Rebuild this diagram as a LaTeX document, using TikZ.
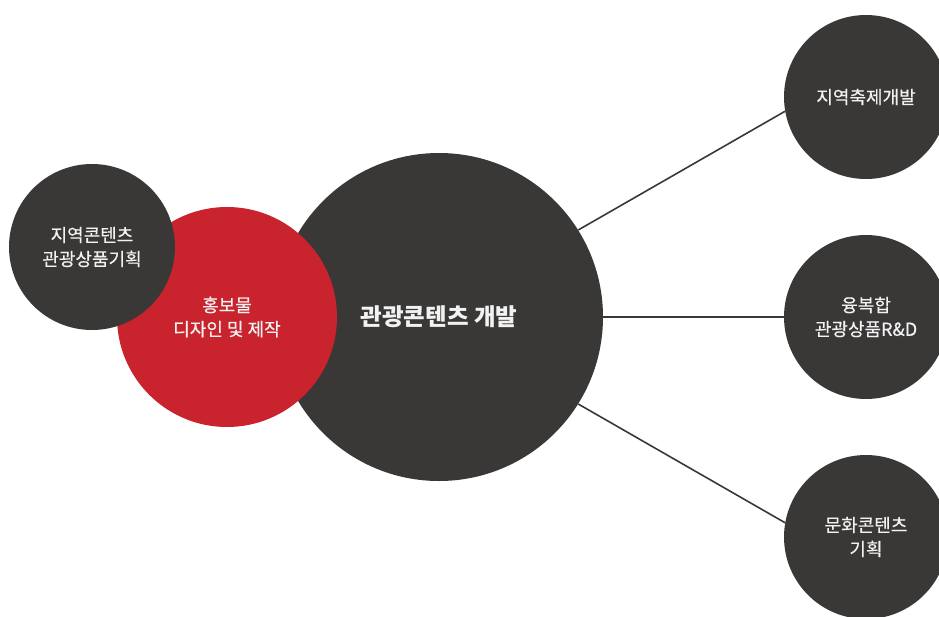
\documentclass[tikz,border=0pt]{standalone}
\usepackage{fontspec}
\setmainfont{Noto Sans CJK KR}
\newfontfamily\krlabel{Noto Sans CJK KR}[FakeBold=0.4]
\definecolor{bubblegray}{HTML}{3A3837}
\definecolor{bubblered}{HTML}{C9232D}
\definecolor{labelwhite}{HTML}{F2F2F2}
\begin{document}
\begin{tikzpicture}[x=1pt, y=-1pt,
  bubble/.style={circle, inner sep=0pt, align=center, text=labelwhite,
    font=\krlabel\fontsize{18}{24}\selectfont},
  grayb/.style={bubble, fill=bubblegray},
  link/.style={draw=bubblegray, line width=1.6pt}]
  \clip (0,0) rectangle (939,616);
  % Centre and the two circles to its left
  \node[grayb, minimum size=328pt, font=\fontsize{23.5}{28}\selectfont\bfseries] (dev) at (439,317) {관광콘텐츠 개발};
  \node[bubble, fill=bubblered, minimum size=220pt] (promo) at (227,317) {홍보물\\디자인 및 제작};
  \node[grayb, minimum size=166pt] (local) at (92,247) {지역콘텐츠\\관광상품기획};
  % Circles on the right
  \node[grayb, minimum size=164pt] (fest) at (866,97) {지역축제개발};
  \node[grayb, minimum size=164pt] (rnd) at (866,317) {융복합\\관광상품R\&D};
  \node[grayb, minimum size=164pt] (culture) at (866,537) {문화콘텐츠\\기획};
  % Links
  \draw[link] (dev.32) -- (fest.190);
  \draw[link] (dev.0) -- (rnd.180);
  \draw[link] (dev.-32) -- (culture.170);
\end{tikzpicture}
\end{document}
